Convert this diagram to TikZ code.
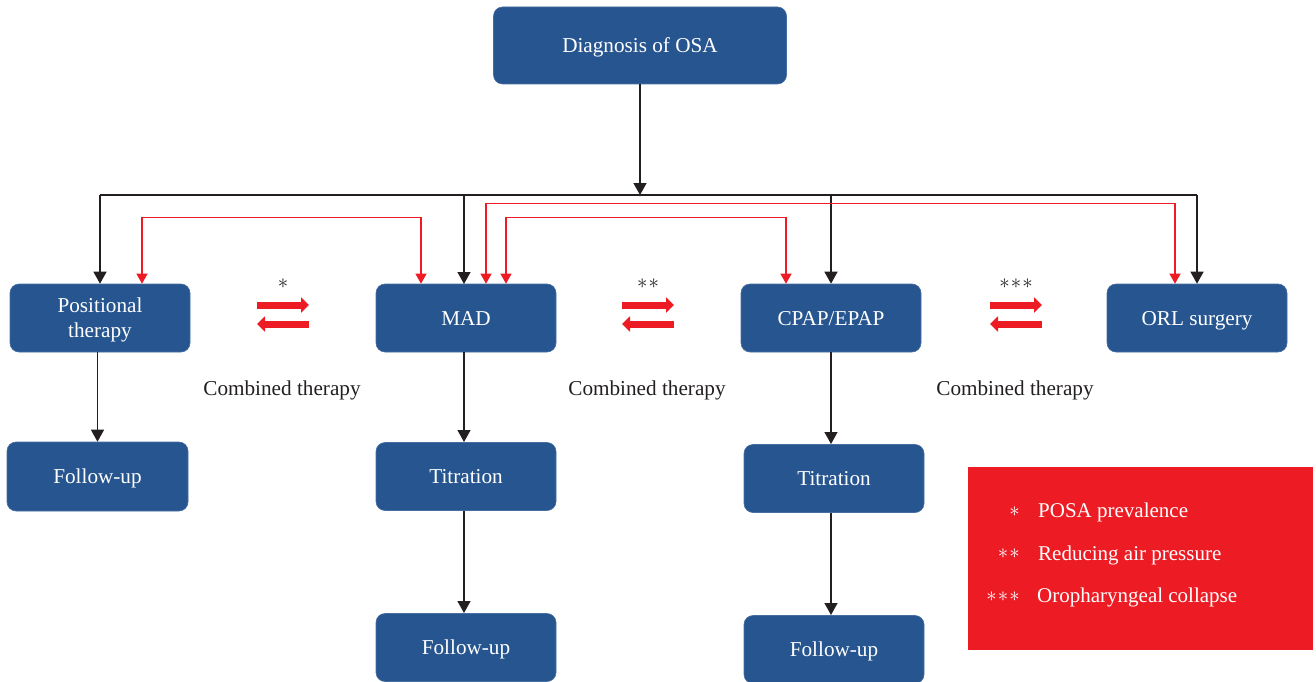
\documentclass[tikz,border=0pt]{standalone}
\usepackage{fontspec}
\setmainfont{Liberation Serif}
\usetikzlibrary{arrows.meta,calc}
\definecolor{boxblue}{RGB}{39,85,143}
\definecolor{legred}{RGB}{237,28,36}
\definecolor{txtgray}{RGB}{35,31,32}
\newcommand{\astr}{{\ast}\mkern1mu}
\begin{document}
\begin{tikzpicture}[x=1pt,y=-1pt,
  box/.style={draw=boxblue!85!white,line width=0.6pt,fill=boxblue,rounded corners=9pt,minimum width=180pt,minimum height=68pt,inner sep=0pt,text=white,align=center,text height=14.5pt,text depth=0pt,font=\fontsize{21.2}{25}\selectfont},
  blk/.style={draw=txtgray,line width=1.4pt},
  blktip/.style={-{Triangle[width=13pt,length=12pt]}},
  redln/.style={draw=legred,line width=1.2pt,{Triangle[width=11pt,length=10pt]}-{Triangle[width=11pt,length=10pt]}},
  fat/.style={draw=legred,line width=7pt,-{Triangle[width=15pt,length=8pt]}},
  lbl/.style={font=\fontsize{21.2}{24}\selectfont,text=txtgray},
  star/.style={font=\fontsize{20.5}{24}\selectfont,text=txtgray,inner sep=0pt},
  legtxt/.style={font=\fontsize{21}{24}\selectfont,text=white,inner sep=0pt}]
\useasboundingbox (0,0) rectangle (1316,682);
% boxes
\node[box,minimum width=293pt,minimum height=77pt] (diag) at (640,45.5) {Diagnosis of OSA};
\node[box,text height=39.5pt] (pos) at (100,318) {Positional\\therapy};
\node[box] (mad) at (466,318) {MAD};
\node[box] (cpap) at (831,318) {CPAP/EPAP};
\node[box] (orl) at (1197,318) {ORL surgery};
\node[box,minimum width=181pt,minimum height=69pt] (fu1) at (97.5,476.5) {Follow-up};
\node[box] (tit1) at (466,476.5) {Titration};
\node[box] (fu2) at (466,647.5) {Follow-up};
\node[box] (tit2) at (834,478.5) {Titration};
\node[box] (fu3) at (834,649.5) {Follow-up};
% bus
\coordinate (bus) at (640,195);
\draw[blk,blktip] (diag.south) -- (bus);
\draw[blk] (bus -| pos.north) -- (bus -| orl.north);
\draw[blk,blktip] (bus -| pos.north) -- (pos.north);
\draw[blk,blktip] (464,195) -- (464,284);
\draw[blk,blktip] (bus -| cpap.north) -- (cpap.north);
\draw[blk,blktip] (bus -| orl.north) -- (orl.north);
% red links
\draw[redln] ([xshift=42pt]pos.north) -- ++(0,-66) -| ([xshift=-45pt]mad.north);
\draw[redln] ([xshift=20pt]mad.north) -- ++(0,-80) -| ([xshift=-22pt]orl.north);
\draw[redln] ([xshift=40pt]mad.north) -- ++(0,-66) -| ([xshift=-45pt]cpap.north);
% vertical
\draw[blk,blktip] (pos.south -| fu1.north) -- (fu1.north);
\draw[blk,blktip] (464,352) -- (464,442);
\draw[blk,blktip] (464,511) -- (464,613);
\draw[blk,blktip] (831,352) -- (831,444);
\draw[blk,blktip] (831,513) -- (831,615);
% combined therapy symbols
\foreach \cx/\s/\n in {283/{$\ast$}/a,648/{$\astr\ast$}/b,1016/{$\astr\astr\ast$}/c}{
  \node[star] (st\n) at (\cx,284) {\s};
  \coordinate (l\n) at (\cx-26,305);
  \coordinate (r\n) at (\cx+26,305);
  \coordinate (l2\n) at (\cx-26,324);
  \coordinate (r2\n) at (\cx+26,324);
  \draw[fat,line cap=butt] (l\n) -- (r\n);
  \draw[fat,line cap=butt] (r2\n) -- (l2\n);
  \node[lbl] (ct\n) at (\cx-1,390) {Combined therapy};
}
% legend
\node[fill=legred,minimum width=345pt,minimum height=183pt,inner sep=0pt,anchor=north west] (leg) at (968,467) {};
\node[legtxt,anchor=east] (ls1) at (1020,512) {$\ast$};
\node[legtxt,anchor=east] (ls2) at (1020,554) {$\astr\ast$};
\node[legtxt,anchor=east] (ls3) at (1020,597) {$\astr\astr\ast$};
\node[legtxt,anchor=base west] (lt1) at (1038,517) {POSA prevalence};
\node[legtxt,anchor=base west] (lt2) at (1038,560) {Reducing air pressure};
\node[legtxt,anchor=base west] (lt3) at (1037,602) {Oropharyngeal collapse};
\end{tikzpicture}
\end{document}
